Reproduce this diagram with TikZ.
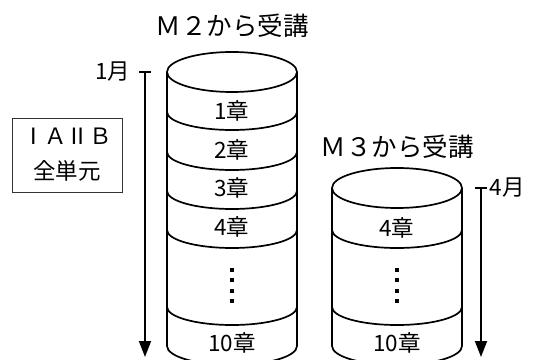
\documentclass[tikz,border=0pt]{standalone}
\usepackage{fontspec}
\newfontfamily\jpfont{Noto Sans CJK JP}
\usetikzlibrary{arrows.meta}

\begin{document}
\begin{tikzpicture}[x=1pt,y=1pt,line width=1.7pt]
\tikzset{label text/.style=
            {font=\jpfont\fontsize{22.5}{26}\selectfont,inner sep=0pt},
         heading text/.style=
            {font=\jpfont\fontsize{25.5}{30}\selectfont,inner sep=0pt},
         time line/.style=
            {-{Triangle[length=16pt,width=12pt]}},
         range box/.style=
            {draw=black!80,line width=0.8pt,minimum width=110pt,minimum height=74pt,
             align=center,font=\jpfont\fontsize{22.5}{35}\selectfont}}
\clip (0,0) rectangle (533,359);
% cylinder M2
\draw (232,287) ellipse [x radius=65,y radius=20];
\draw (167,287) -- (167,13) arc [start angle=180,end angle=360,x radius=65,y radius=19] -- (297,287);
\foreach \y in {247,207,168,129,52}
    \draw (167,\y) arc [start angle=180,end angle=360,x radius=65,y radius=18];
% cylinder M3
\draw (397,171) ellipse [x radius=65,y radius=20];
\draw (332,171) -- (332,13) arc [start angle=180,end angle=360,x radius=65,y radius=19] -- (462,171);
\foreach \y in {129,52}
    \draw (332,\y) arc [start angle=180,end angle=360,x radius=65,y radius=18];
\foreach \y in {91,80.5,70,59.5} {
    \fill (230,\y) rectangle ++(4,-4);
    \fill (395,\y) rectangle ++(4,-4);
}
\node[heading text] (m2) at (232,333) {Ｍ２から受講};
\node[heading text] (m3) at (397,212) {Ｍ３から受講};
\node[label text] (c1) at (232,248) {1章};
\node[label text] (c2) at (232,209) {2章};
\node[label text] (c3) at (232,171) {3章};
\node[label text] (c4) at (232,132) {4章};
\node[label text] (c10) at (232,16) {10章};
\node[label text] (d4) at (397,131) {4章};
\node[label text] (d10) at (397,16) {10章};
\node[range box] (all) at (67,204) {ⅠＡⅡＢ\\全単元};
% time lines
\coordinate (jan) at (145,287);
\coordinate (janend) at (145,2);
\coordinate (apr) at (481,171);
\coordinate (aprend) at (481,2);
\draw[time line] (jan) -- (janend);
\draw ([xshift=-6pt]jan) -- ([xshift=6pt]jan);
\draw[time line] (apr) -- (aprend);
\draw ([xshift=-6pt]apr) -- ([xshift=6pt]apr);
\node[label text,anchor=east] (m1) at ([xshift=-14pt]jan) {1月};
\node[label text,anchor=west] (m4) at ([xshift=8pt]apr) {4月};
\end{tikzpicture}
\end{document}
